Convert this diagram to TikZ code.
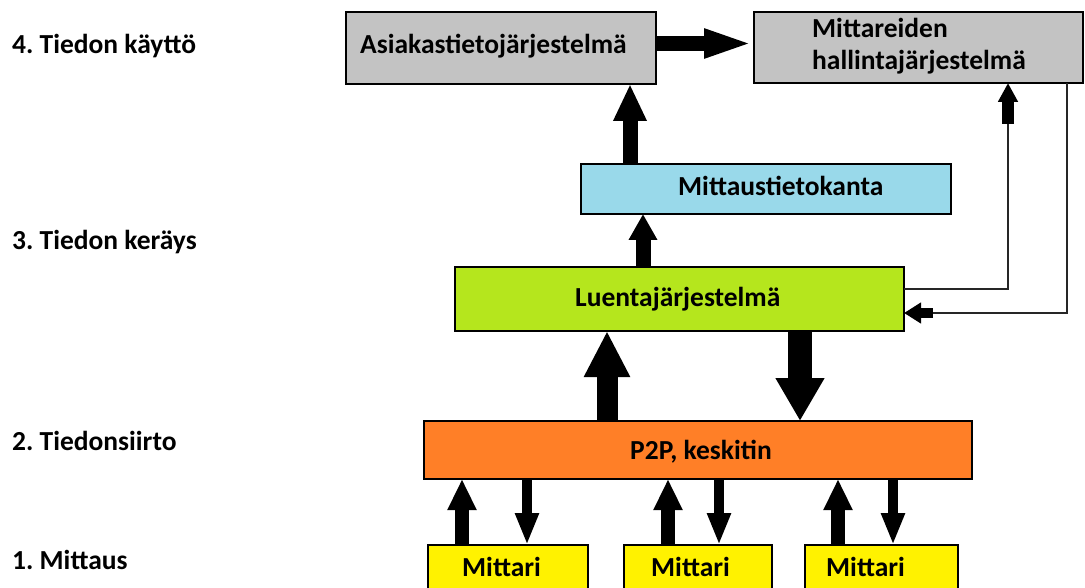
\documentclass[tikz,border=0pt]{standalone}
\usepackage{fontspec}
\setmainfont{Carlito}
\usetikzlibrary{arrows.meta}
\frenchspacing

\definecolor{boxgray}{HTML}{C3C3C3}
\definecolor{boxblue}{HTML}{99D9EA}
\definecolor{boxgreen}{HTML}{B5E61D}
\definecolor{boxorange}{HTML}{FF7F27}
\definecolor{boxyellow}{HTML}{FFF200}

\tikzset{
  blk/.style={draw=black, line width=1.8pt, inner sep=0pt, outer sep=0pt},
  txt/.style={anchor=base west, inner sep=0pt, font=\fontsize{27.5}{32}\selectfont\bfseries},
  fat/.style={line width=#1, draw=black},
  thin/.style={line width=1.6pt, draw=black!85},
}

\begin{document}
\begin{tikzpicture}[x=1pt,y=-1pt]
\useasboundingbox (0,0) rectangle (1085,588);

% level labels
\node[txt] (l4) at (12,54) {4. Tiedon käyttö};
\node[txt] (l3) at (12,250) {3. Tiedon keräys};
\node[txt] (l2) at (12,450) {2. Tiedonsiirto};
\node[txt] (l1) at (12,569) {1. Mittaus};

% boxes
\node[blk, fill=boxgray, minimum width=310pt, minimum height=72pt] (asiakas) at (501,48) {};
\node[blk, fill=boxgray, minimum width=329pt, minimum height=71pt] (mittareiden) at (918.5,47.5) {};
\node[blk, fill=boxblue, minimum width=370pt, minimum height=50pt] (mittaus) at (766,189) {};
\node[blk, fill=boxgreen, minimum width=449pt, minimum height=64pt] (luenta) at (679.5,299) {};
\node[blk, fill=boxorange, minimum width=548pt, minimum height=58pt] (p2p) at (698,450) {};
\node[blk, fill=boxyellow, minimum width=160pt, minimum height=50pt] (m1) at (508,570) {};
\node[blk, fill=boxyellow, minimum width=148pt, minimum height=50pt] (m2) at (698,570) {};
\node[blk, fill=boxyellow, minimum width=153pt, minimum height=50pt] (m3) at (881.5,570) {};

% box texts
\node[txt] (tasiakas) at (360,54) {Asiakastietojärjestelmä};
\node[txt, align=left, anchor=north west] (tmittareiden) at (812,18) {Mittareiden\\hallintajärjestelmä};
\node[txt] (tmittaus) at (678,196) {Mittaustietokanta};
\node[txt] (tluenta) at (575,307) {Luentajärjestelmä};
\node[txt] (tp2p) at (630,459) {P2P, keskitin};
\node[txt] (tm1) at (462,576) {Mittari};
\node[txt] (tm2) at (651,576) {Mittari};
\node[txt] (tm3) at (826,576) {Mittari};

% top horizontal arrow
\draw[fat=15pt, -{Triangle[length=50pt,width=26pt]}]
  ([yshift=4.5pt]asiakas.east) -- ([yshift=4pt]mittareiden.west);

% database up to customer system
\draw[fat=15pt, -{Triangle[length=37pt,width=31pt]}]
  (mittaus.north -| 630,0) -- (asiakas.south -| 630,0);

% reading system up to database
\draw[fat=15pt, -{Triangle[length=26pt,width=27pt]}]
  (luenta.north -| 643,0) -- (mittaus.south -| 643,0);

% big arrows between reading system and transfer
\draw[fat=21pt, -{Triangle[length=46pt,width=43pt]}]
  (p2p.north -| 607,0) -- (luenta.south -| 607,0);
\draw[fat=24pt, -{Triangle[length=43pt,width=46pt]}]
  (luenta.south -| 800,0) -- (p2p.north -| 800,0);

% meters
\foreach \m/\u/\d in {m1/462/527, m2/668/719, m3/838/893}{
  \draw[fat=14pt, -{Triangle[length=31pt,width=27pt]}]
    (\m.north -| \u,0) -- (p2p.south -| \u,0);
  \draw[fat=10pt, -{Triangle[length=32pt,width=22pt]}]
    (p2p.south -| \d,0) -- (\m.north -| \d,0);
}

% side connections to the meter management system
\coordinate (ra) at (1008,124);
\coordinate (rb) at (933,313);
\draw[thin] ([yshift=10pt]luenta.east) -| (ra);
\draw[fat=12pt, -{Triangle[length=19pt,width=19pt]}]
  (ra) -- (mittareiden.south -| ra);
\draw[thin] (mittareiden.south -| 1067,0) |- (rb);
\draw[fat=10pt, -{Triangle[length=17pt,width=20pt]}]
  (rb) -- (luenta.east |- rb);
\end{tikzpicture}
\end{document}
